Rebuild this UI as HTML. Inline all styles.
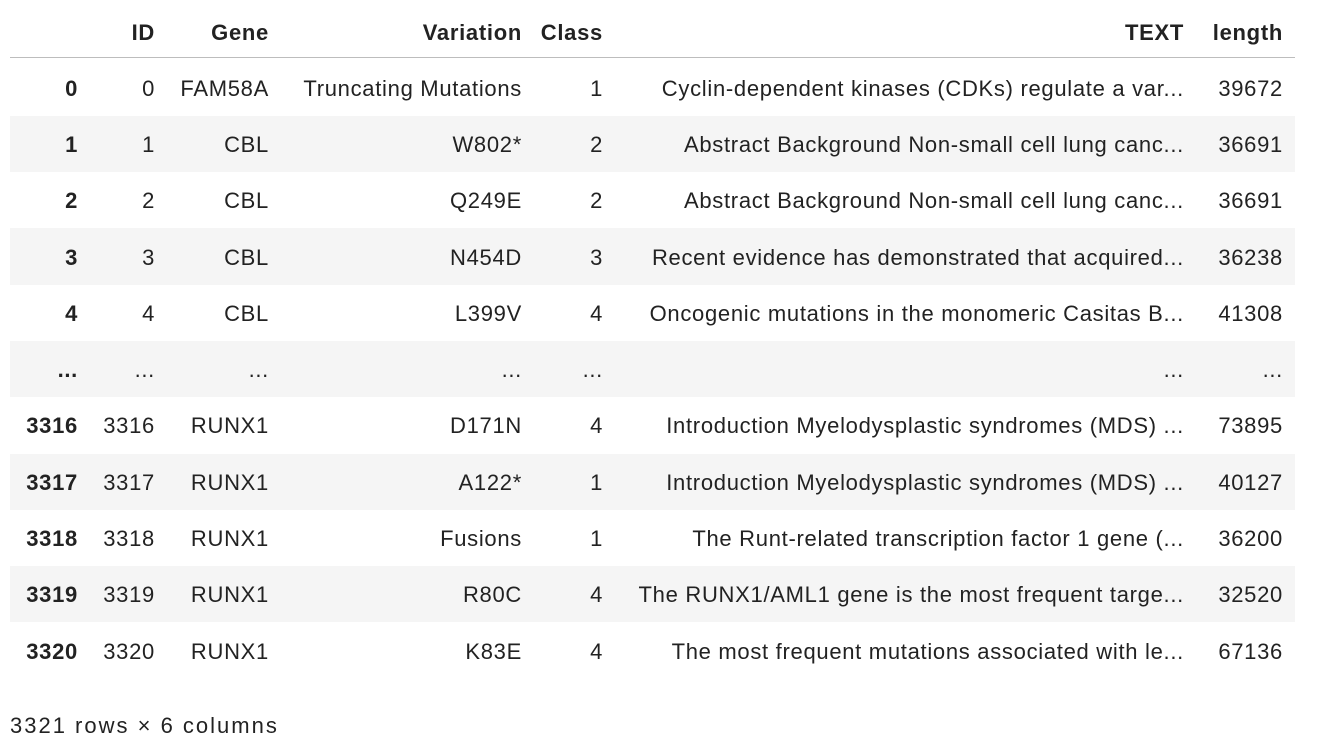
<!DOCTYPE html>
<html><head><meta charset="utf-8"><style>
body{margin:0;width:1318px;height:743px;background:#fff;overflow:hidden;font-family:"Liberation Sans",sans-serif;color:#222;font-size:22px;letter-spacing:0.7px;position:relative}
.c{position:absolute;text-align:right;white-space:nowrap;line-height:24px}
.b{font-weight:bold}
.bg{position:absolute;left:10px;width:1285px;background:#f5f5f5}
#hl{position:absolute;left:10px;top:57px;width:1285px;height:1px;background:#bdbdbd}
#foot{position:absolute;left:10px;top:713px;line-height:26px;letter-spacing:2px}
</style></head><body>
<div id="root"></div>
<div id="hl"></div>
<div id="foot">3321 rows × 6 columns</div>
<script>
const headers=["","ID","Gene","Variation","Class","TEXT","length"];
const rows=[
["0","0","FAM58A","Truncating Mutations","1","Cyclin-dependent kinases (CDKs) regulate a var...","39672"],
["1","1","CBL","W802*","2","Abstract Background Non-small cell lung canc...","36691"],
["2","2","CBL","Q249E","2","Abstract Background Non-small cell lung canc...","36691"],
["3","3","CBL","N454D","3","Recent evidence has demonstrated that acquired...","36238"],
["4","4","CBL","L399V","4","Oncogenic mutations in the monomeric Casitas B...","41308"],
["...","...","...","...","...","...","..."],
["3316","3316","RUNX1","D171N","4","Introduction Myelodysplastic syndromes (MDS) ...","73895"],
["3317","3317","RUNX1","A122*","1","Introduction Myelodysplastic syndromes (MDS) ...","40127"],
["3318","3318","RUNX1","Fusions","1","The Runt-related transcription factor 1 gene (...","36200"],
["3319","3319","RUNX1","R80C","4","The RUNX1/AML1 gene is the most frequent targe...","32520"],
["3320","3320","RUNX1","K83E","4","The most frequent mutations associated with le...","67136"]];
const rights=[78,155,269,522,603,1184,1283];
const root=document.getElementById('root');
function cell(txt,right,cy,bold,name){
 const d=document.createElement('div');
 d.className='c'+(bold?' b':'');
 d.textContent=txt;
 d.style.right=(1318-right)+'px';
 d.style.top=(cy-11)+'px';
 
 
 root.appendChild(d);
}
headers.forEach((h,i)=>{ if(h) cell(h,rights[i],32,true,'header-'+h.toLowerCase()); });
const rh=56.3, top0=59.5;
rows.forEach((r,ri)=>{
 const t=top0+ri*rh;
 if(ri%2===1){
  const bg=document.createElement('div');
  bg.className='bg';
  bg.style.top=t+'px';bg.style.height=rh+'px';
  
  
  root.appendChild(bg);
 }
});
rows.forEach((r,ri)=>{
 const cy=top0+ri*rh+rh/2;
 r.forEach((v,ci)=>cell(v,rights[ci],cy,ci===0,ci===0?'row-index':'cell-'+headers[ci].toLowerCase()));
});
</script>
</body></html>
